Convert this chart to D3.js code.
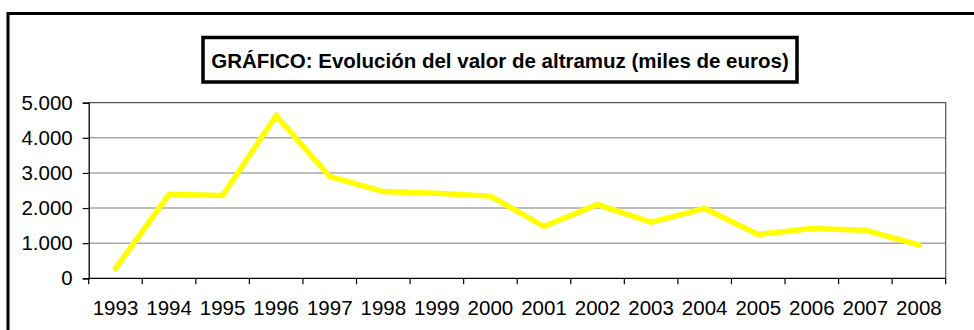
<!DOCTYPE html>
<html>
<head>
<meta charset="utf-8">
<script src="https://cdn.jsdelivr.net/npm/d3@7"></script>
<style>
  html, body { margin: 0; padding: 0; background: #fff; }
  svg { display: block; }
  text { font-family: "Liberation Sans", Arial, sans-serif; fill: #000; }
</style>
</head>
<body>
<svg id="chart" width="974" height="330"></svg>
<script>
// Valor de la producción de altramuz, miles de euros
const years = ["1993","1994","1995","1996","1997","1998","1999","2000",
               "2001","2002","2003","2004","2005","2006","2007","2008"];
const values = [280, 2390, 2360, 4630, 2900, 2470, 2420, 2340,
                1480, 2100, 1600, 1990, 1250, 1420, 1370, 950];
const yTicks = [0, 1000, 2000, 3000, 4000, 5000];
const titleText = "GRÁFICO: Evolución del valor de altramuz (miles de euros)";

const svg = d3.select("#chart");
const W = 974, H = 330;
const plot = { left: 88.7, right: 945.7, top: 102.7, bottom: 278.3 };
const fontSize = 20.5;

// outer frame
svg.append("rect")
  .attr("x", 8).attr("y", 13.5)
  .attr("width", W + 20).attr("height", H + 20)
  .attr("fill", "#fff").attr("stroke", "#000").attr("stroke-width", 3);

const x = d3.scaleBand().domain(years).range([plot.left, plot.right]).padding(0);
const y = d3.scaleLinear().domain([0, 5000]).range([plot.bottom, plot.top]);

// horizontal gridlines
svg.append("g").selectAll("line")
  .data(yTicks.filter(t => t > 0 && t < 5000))
  .join("line")
  .attr("x1", plot.left).attr("x2", plot.right)
  .attr("y1", d => y(d)).attr("y2", d => y(d))
  .attr("stroke", "#a8a8a8").attr("stroke-width", 1.5);

// plot area border (top and right)
svg.append("path")
  .attr("d", `M${plot.left},${plot.top}H${plot.right}V${plot.bottom}`)
  .attr("fill", "none").attr("stroke", "#555").attr("stroke-width", 1.2);

// y axis
const yAxis = d3.axisLeft(y).tickValues(yTicks).tickSize(6).tickPadding(10)
  .tickFormat(d => d3.format(",")(d).replace(/,/g, "."));
const gy = svg.append("g").attr("transform", `translate(${plot.left},0)`).call(yAxis);
gy.attr("font-size", fontSize).attr("font-family", "Liberation Sans, Arial, sans-serif");
gy.select(".domain").attr("stroke", "#000").attr("stroke-width", 1.3);
gy.selectAll(".tick line").attr("stroke", "#000").attr("stroke-width", 1.2);
gy.selectAll(".tick text").attr("fill", "#000");

// x axis: ticks at category boundaries, labels centred
const gx = svg.append("g").attr("transform", `translate(0,${plot.bottom})`);
gx.append("line")
  .attr("x1", plot.left).attr("x2", plot.right)
  .attr("stroke", "#000").attr("stroke-width", 1.3);
const bounds = years.map(d => x(d)).concat([x(years[years.length - 1]) + x.bandwidth()]);
gx.selectAll("line.tk").data(bounds).join("line").attr("class", "tk")
  .attr("x1", d => d).attr("x2", d => d).attr("y1", 0).attr("y2", 6)
  .attr("stroke", "#000").attr("stroke-width", 1.2);
gx.selectAll("text").data(years).join("text")
  .attr("x", d => x(d) + x.bandwidth() / 2)
  .attr("y", 37)
  .attr("text-anchor", "middle")
  .attr("font-size", fontSize)
  .text(d => d);

// data line
const line = d3.line()
  .x((d, i) => x(years[i]) + x.bandwidth() / 2)
  .y(d => y(d));
svg.append("path")
  .datum(values)
  .attr("d", line)
  .attr("fill", "none")
  .attr("stroke", "#ffff00")
  .attr("stroke-width", 5.5)
  .attr("stroke-linejoin", "miter")
  .attr("stroke-linecap", "round");

// title box
const tb = { x: 203, y: 37.5, w: 594, h: 44.5 };
svg.append("rect")
  .attr("x", tb.x).attr("y", tb.y).attr("width", tb.w).attr("height", tb.h)
  .attr("fill", "#fff").attr("stroke", "#000").attr("stroke-width", 3.5);
svg.append("text")
  .attr("x", tb.x + tb.w / 2).attr("y", 67.5)
  .attr("text-anchor", "middle")
  .attr("font-size", fontSize).attr("font-weight", "bold")
  .text(titleText);
</script>
</body>
</html>
